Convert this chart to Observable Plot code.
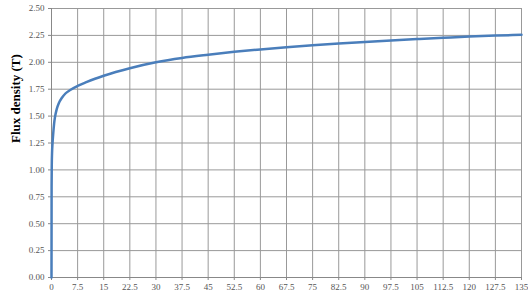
<!DOCTYPE html>
<html><head><meta charset="utf-8">
<script src="https://cdn.jsdelivr.net/npm/d3@7"></script>
<script src="https://cdn.jsdelivr.net/npm/@observablehq/plot@0.6"></script>
<style>body{margin:0;background:#fff}</style>
</head><body><div id="chart"></div>
<script>
const fieldH = [0, 0.03, 0.08, 0.15, 0.3, 0.5, 0.75, 1.0, 1.5, 2.1, 3, 4, 5.5, 7.5, 10, 12.5, 15, 22.5, 30, 37.5, 45, 52.5, 60, 67.5, 75, 82.5, 90, 97.5, 105, 112.5, 120, 127.5, 135];
const fluxB  = [0, 0.85, 1.05, 1.15, 1.25, 1.34, 1.43, 1.49, 1.565, 1.62, 1.67, 1.71, 1.745, 1.78, 1.815, 1.847, 1.875, 1.945, 2.0, 2.04, 2.07, 2.097, 2.12, 2.14, 2.158, 2.174, 2.189, 2.203, 2.216, 2.228, 2.239, 2.248, 2.256];
const xTicks = [0, 7.5, 15, 22.5, 30, 37.5, 45, 52.5, 60, 67.5, 75, 82.5, 90, 97.5, 105, 112.5, 120, 127.5, 135];
const yTicks = [0, 0.25, 0.5, 0.75, 1, 1.25, 1.5, 1.75, 2, 2.25, 2.5];
const yTitle = "Flux density (T)";

const data = fieldH.map((h, i) => ({h, b: fluxB[i]}));

const chart = Plot.plot({
  width: 528, height: 305,
  marginLeft: 51, marginRight: 7, marginTop: 8, marginBottom: 28,
  style: {fontFamily: "'Liberation Serif', serif", fontSize: "9px", color: "#555", background: "#fff"},
  x: {domain: [0, 135], ticks: xTicks, tickFormat: d => String(d), tickSize: 3, label: null},
  y: {domain: [0, 2.5], ticks: yTicks, tickFormat: d => d.toFixed(2), tickSize: 3, label: null},
  marks: [
    Plot.gridX(xTicks, {stroke: "#999", strokeOpacity: 1, strokeWidth: 1}),
    Plot.gridY(yTicks, {stroke: "#999", strokeOpacity: 1, strokeWidth: 1}),
    Plot.axisX({ticks: xTicks, tickFormat: d => String(d), tickSize: 3, stroke: "#888", tickPadding: 3}),
    Plot.axisY({ticks: yTicks, tickFormat: d => d.toFixed(2), tickSize: 3, stroke: "#888", tickPadding: 4}),
    Plot.ruleX([0], {stroke: "#888"}),
    Plot.ruleY([0], {stroke: "#888"}),
    Plot.line(data, {x: "h", y: "b", stroke: "#4a7ebb", strokeWidth: 2.5, curve: "monotone-x"}),
    Plot.text([yTitle], {frameAnchor: "left", dx: -36, rotate: -90, fontSize: 13, fontWeight: "bold", fill: "#000", fontFamily: "'Liberation Serif', serif"})
  ]
});
document.getElementById("chart").appendChild(chart);
</script></body></html>
